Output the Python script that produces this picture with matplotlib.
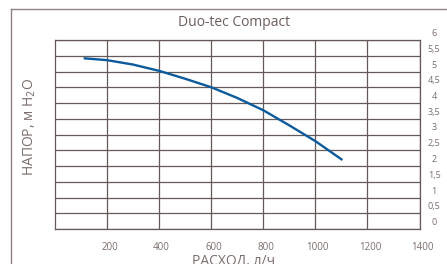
import matplotlib.pyplot as plt
import matplotlib.transforms as mtransforms
from matplotlib.lines import Line2D

plt.rcParams['font.family'] = ['Open Sans', 'DejaVu Sans']

# pump curve
flow = [110, 200, 300, 400, 500, 600, 700, 800, 900, 1000, 1104]
head = [5.42, 5.36, 5.22, 5.02, 4.77, 4.50, 4.16, 3.77, 3.29, 2.79, 2.19]

x_ticks = [200, 400, 600, 800, 1000, 1200, 1400]
y_ticks = [0, 0.5, 1, 1.5, 2, 2.5, 3, 3.5, 4, 4.5, 5, 5.5, 6]
y_labels = ['0', '0,5', '1', '1,5', '2', '2,5', '3', '3,5', '4', '4,5', '5', '5,5', '6']

grid_col = '#665a58'
text_col = '#7a6e6c'

fig = plt.figure(figsize=(4.47, 2.64), dpi=100)
ax = fig.add_axes([55 / 447, 1 - 229 / 264, 364.5 / 447, 189 / 264])

ax.plot(flow, head, color='#0b5a9c', lw=1.7, solid_capstyle='butt')

ax.set_xlim(0, 1400)
ax.set_ylim(0, 6)
ax.set_xticks(x_ticks)
ax.set_yticks(y_ticks)
ax.set_yticklabels(y_labels)
ax.grid(True, color=grid_col, lw=0.9)
ax.set_axisbelow(True)
for s in ax.spines.values():
    s.set_color(grid_col)
    s.set_linewidth(0.9)

ax.tick_params(axis='x', length=0, pad=9, labelsize=7, labelcolor=text_col)
ax.tick_params(axis='y', length=0, pad=10.5, labelsize=6.5, labelcolor=text_col,
               labelleft=False, labelright=True)

# labels sit a bit off the grid lines
dx = mtransforms.ScaledTranslation(2.5 / 100, 0, fig.dpi_scale_trans)
for lab in ax.get_xticklabels():
    lab.set_transform(lab.get_transform() + dx)
dy = mtransforms.ScaledTranslation(0, 7.5 / 100, fig.dpi_scale_trans)
for lab in ax.get_yticklabels():
    lab.set_horizontalalignment('center')
    lab.set_transform(lab.get_transform() + dy)

fig.text(234.5 / 447, 1 - 23 / 264, 'Duo-tec Compact', ha='center', va='center',
         fontsize=10, color='#6a5e5c')
fig.text(233 / 447, 1 - 261 / 264, 'РАСХОД, л/ч', ha='center', va='center',
         fontsize=10, color=text_col)
fig.text(30 / 447, 1 - 127 / 264, r'НАПОР, м H$_2$O', ha='center', va='center',
         rotation=90, fontsize=10, color=text_col)

# outer frame, runs off the right and bottom edges
fig.add_artist(Line2D([11 / 447, 1.0], [1 - 9 / 264, 1 - 9 / 264],
                      transform=fig.transFigure, color='#8c8280', lw=1))
fig.add_artist(Line2D([11 / 447, 11 / 447], [1 - 9 / 264, 0.0],
                      transform=fig.transFigure, color='#8c8280', lw=1))

fig.savefig('out.png', dpi=100)
